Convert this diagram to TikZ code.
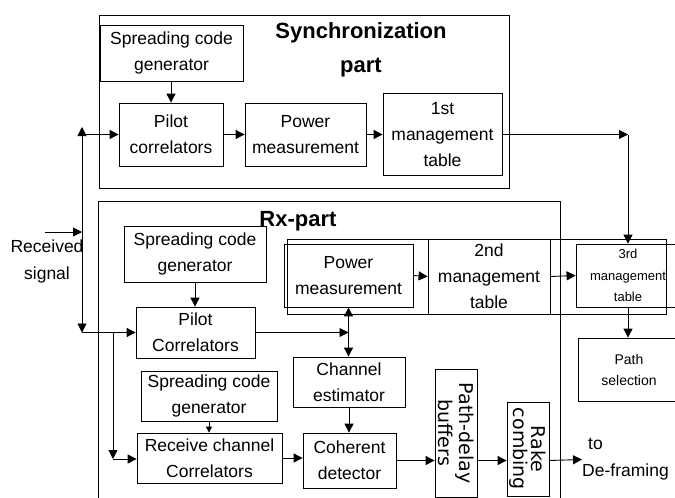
\documentclass[tikz,border=0pt]{standalone}
\usepackage{fontspec}
\setmainfont{Liberation Sans}
\newfontfamily\vfnt{DejaVu Sans}
\usetikzlibrary{arrows.meta}
\begin{document}
\begin{tikzpicture}[x=1pt,y=-1pt,
  box/.style={draw, line width=0.8pt, inner sep=0pt, align=center, font=\fontsize{17.5}{26}\selectfont},
  smallbox/.style={box, font=\fontsize{13}{21.5}\selectfont},
  selbox/.style={box, font=\fontsize{14}{21}\selectfont},
  vbox/.style={box, font=\vfnt\fontsize{19}{21}\selectfont},
  frame/.style={draw, line width=0.8pt},
  arr/.style={-{Triangle[length=9pt,width=9pt]}, line width=0.9pt},
  sarr/.style={-{Triangle[length=6pt,width=6pt]}, line width=0.8pt},
  title/.style={font=\fontsize{22}{34}\selectfont\bfseries, align=center, inner sep=0pt},
  txt/.style={font=\fontsize{17.5}{27}\selectfont, align=center, inner sep=0pt}
]
\useasboundingbox (0,0) rectangle (675,498);
\clip (0,0) rectangle (675,498);

% Synchronization part
\node[box, minimum width=410, minimum height=173] (sync) at (304,101.5) {};
\node[title] (synctitle) at (361,50) {Synchronization\\part};
\node[box, minimum width=143, minimum height=56] (sgen1) at (171.5,53) {Spreading code\\generator};
\node[box, minimum width=104, minimum height=63] (pilot1) at (171,134.5) {Pilot\\correlators};
\node[box, minimum width=121, minimum height=63] (power1) at (305.5,134.5) {Power\\measurement};
\node[box, minimum width=119, minimum height=82] (table1) at (442.5,134.5) {1st\\management\\table};

% Rx part
\draw[frame] (98,498) -- (98,201) -- (560,201) -- (560,498);
\node[box, minimum width=142, minimum height=56] (sgen2) at (195,254) {Spreading code\\generator};
\node[title] (rxtitle) at (298,221) {Rx-part};
\node[box, minimum width=119, minimum height=51] (pilot2) at (195.5,332.5) {Pilot\\Correlators};
\node[box, minimum width=379, minimum height=75] (row) at (476.5,276.5) {};
\node[box, minimum width=129, minimum height=63] (power2) at (348.5,275.5) {Power\\measurement};
\node[box, minimum width=122, minimum height=75] (table2) at (489,276.5) {2nd\\management\\table};
\node[smallbox, minimum width=104, minimum height=63] (table3) at (628,275.5) {3rd\\management\\table};
\node[selbox, minimum width=102, minimum height=63] (pathsel) at (629,369.5) {Path\\selection};
\node[box, minimum width=112, minimum height=50] (chest) at (349,382) {Channel\\estimator};
\node[box, minimum width=136, minimum height=50] (sgen3) at (209,396) {Spreading code\\generator};
\node[box, minimum width=145, minimum height=50] (recv) at (209.5,458) {Receive channel\\Correlators};
\node[box, minimum width=93, minimum height=55] (coh) at (349.5,460.5) {Coherent\\detector};
\node[vbox, minimum width=42, minimum height=128] (buf) at (456,433) {\rotatebox{-90}{\shortstack{Path-delay\\buffers}}};
\node[vbox, minimum width=42, minimum height=94] (rake) at (528,449) {\rotatebox{-90}{\shortstack{Rake\\combing}}};

% texts
\node[txt] (recsig) at (47,261.5) {Received\\signal};
\node[txt, anchor=west, align=left] (out) at (582,459.5) {\hspace*{6pt}to\\De-framing};

% coordinates
\coordinate (rin) at (45,232);
\coordinate (j1) at (82,232);
\coordinate (jtop) at (82,127);
\coordinate (jbot) at (82,332.5);
\coordinate (j2) at (113,332.5);
\coordinate (j2b) at (113,459);
\coordinate (c1) at (628,134.5);
\coordinate (j3) at (348.5,332.5);

% sync connectors
\draw[arr] (sgen1.south -| pilot1.north) -- (pilot1.north);
\draw[arr] (pilot1.east) -- (power1.west);
\draw[arr] (power1.east) -- (table1.west);
\draw[arr] (table1.east) -- (c1);
\draw[arr] (c1) -- (table3.north);

% input
\draw[arr] (rin) -- (j1);
\draw[arr] (j1) -- (jtop);
\draw[arr] (j1) -- (jbot);
\draw[arr] (jtop |- pilot1.west) -- (pilot1.west);
\draw[arr] (jbot) -- (pilot2.west);
\draw[arr] (j2) -- (j2b);
\draw[arr] (j2b) -- (j2b -| recv.west);

% rx connectors
\draw[arr] (sgen2.south) -- (pilot2.north -| sgen2.south);
\draw[arr] (pilot2.east) -- (j3);
\draw[arr] (j3) -- (power2.south);
\draw[arr] (j3) -- (j3 |- chest.north);
\draw[arr] (power2.east) -- (table2.west);
\draw[arr] (table2.east) -- (table3.west);
\draw[arr] (table3.south) -- (pathsel.north -| table3.south);
\draw[arr] (chest.south) -- (chest.south |- coh.north);
\draw[sarr] (sgen3.south) -- (recv.north -| sgen3.south);
\draw[arr] (recv.east) -- (recv.east -| coh.west);
\draw[arr] (coh.east) -- (coh.east -| buf.west);
\draw[arr] (buf.east |- coh.east) -- (coh.east -| rake.west);
\draw[arr] (rake.east |- coh.east) -- (out.west);
\end{tikzpicture}
\end{document}
